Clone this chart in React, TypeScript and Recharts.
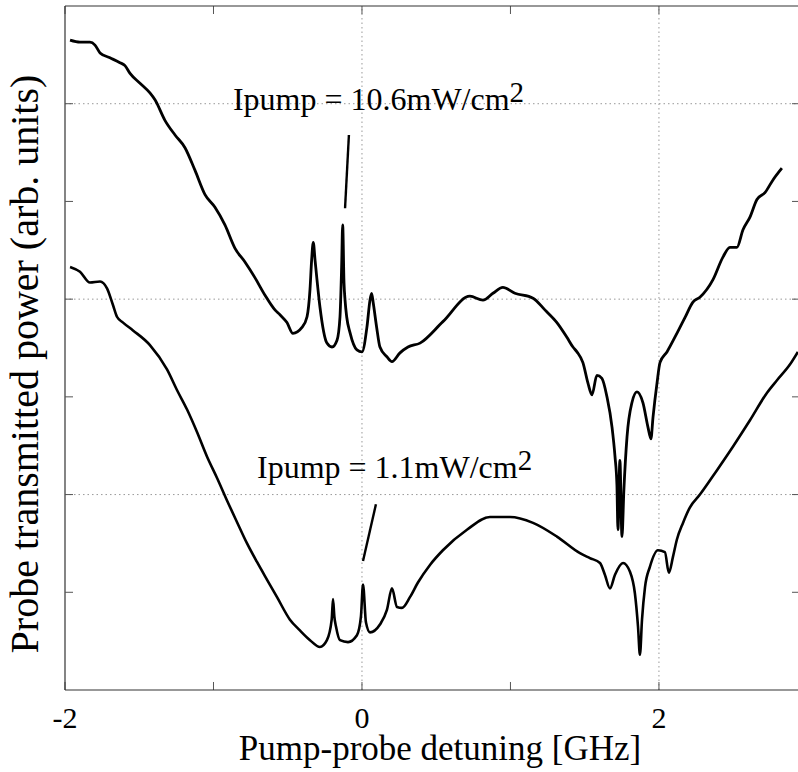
import React from "react";
import { LineChart, Line, XAxis, YAxis, ReferenceLine, ReferenceDot } from "recharts";

const FONT = '"Liberation Serif", "Times New Roman", serif';

// [detuning GHz, transmitted power arb.]
const highPump = [
  [-1.966, 6.65], [-1.899, 6.63], [-1.832, 6.63], [-1.798, 6.6], [-1.764, 6.52], [-1.697, 6.47],
  [-1.63, 6.42], [-1.596, 6.39], [-1.562, 6.31], [-1.495, 6.21], [-1.428, 6.11], [-1.394, 6.04],
  [-1.327, 5.83], [-1.259, 5.68], [-1.192, 5.55], [-1.125, 5.32], [-1.057, 5.07], [-0.99, 4.94],
  [-0.923, 4.76], [-0.855, 4.52], [-0.788, 4.38], [-0.721, 4.22], [-0.653, 4.04], [-0.586, 3.89],
  [-0.552, 3.84], [-0.505, 3.76], [-0.465, 3.65], [-0.404, 3.71], [-0.37, 3.82], [-0.35, 4.1],
  [-0.339, 4.4], [-0.328, 4.58], [-0.316, 4.4], [-0.305, 4.23], [-0.283, 3.92], [-0.236, 3.55],
  [-0.202, 3.51], [-0.168, 3.58], [-0.148, 3.82], [-0.137, 4.33], [-0.13, 4.76], [-0.121, 4.17],
  [-0.114, 3.99], [-0.103, 3.82], [-0.081, 3.66], [-0.034, 3.48], [0.0, 3.46], [0.034, 3.72],
  [0.054, 3.99], [0.065, 4.06], [0.076, 3.96], [0.099, 3.71], [0.121, 3.51], [0.168, 3.41],
  [0.202, 3.36], [0.256, 3.45], [0.31, 3.51], [0.391, 3.55], [0.545, 3.77], [0.727, 4.03],
  [0.815, 3.99], [0.882, 4.06], [0.949, 4.12], [1.03, 4.06], [1.152, 4.01], [1.232, 3.89],
  [1.313, 3.76], [1.38, 3.61], [1.421, 3.51], [1.448, 3.46], [1.488, 3.35], [1.522, 3.14],
  [1.549, 3.02], [1.582, 3.22], [1.616, 3.19], [1.65, 3.0], [1.684, 2.69], [1.704, 2.39],
  [1.717, 2.1], [1.724, 1.64], [1.737, 2.35], [1.751, 1.57], [1.764, 2.05], [1.785, 2.59],
  [1.818, 2.94], [1.852, 3.05], [1.892, 2.94], [1.926, 2.69], [1.946, 2.57], [1.96, 2.79],
  [1.987, 3.14], [2.007, 3.35], [2.054, 3.46], [2.121, 3.65], [2.175, 3.81], [2.229, 3.97],
  [2.276, 4.02], [2.364, 4.2], [2.431, 4.43], [2.478, 4.53], [2.525, 4.53], [2.566, 4.71],
  [2.613, 4.84], [2.66, 5.02], [2.714, 5.09], [2.768, 5.22], [2.828, 5.34],
];

const lowPump = [
  [-1.966, 4.33], [-1.899, 4.28], [-1.832, 4.17], [-1.764, 4.18], [-1.717, 4.11], [-1.677, 3.94],
  [-1.65, 3.82], [-1.609, 3.76], [-1.542, 3.68], [-1.428, 3.53], [-1.313, 3.28], [-1.246, 3.07],
  [-1.178, 2.87], [-1.111, 2.64], [-1.044, 2.39], [-0.976, 2.17], [-0.909, 1.94], [-0.842, 1.72],
  [-0.774, 1.5], [-0.707, 1.31], [-0.64, 1.13], [-0.572, 0.95], [-0.485, 0.72], [-0.418, 0.61],
  [-0.35, 0.51], [-0.283, 0.44], [-0.236, 0.51], [-0.204, 0.72], [-0.195, 0.93], [-0.186, 0.75],
  [-0.175, 0.65], [-0.148, 0.51], [-0.094, 0.49], [-0.034, 0.56], [-0.007, 0.75], [0.007, 1.08],
  [0.027, 0.69], [0.054, 0.59], [0.121, 0.67], [0.168, 0.82], [0.202, 1.04], [0.236, 0.85],
  [0.269, 0.84], [0.323, 0.95], [0.377, 1.1], [0.458, 1.28], [0.545, 1.43], [0.707, 1.64],
  [0.862, 1.77], [0.997, 1.77], [1.152, 1.71], [1.313, 1.57], [1.468, 1.4], [1.535, 1.35],
  [1.603, 1.3], [1.636, 1.18], [1.67, 1.04], [1.704, 1.18], [1.758, 1.3], [1.805, 1.21],
  [1.838, 0.99], [1.859, 0.65], [1.872, 0.36], [1.886, 0.72], [1.906, 1.05], [1.939, 1.26],
  [1.993, 1.43], [2.04, 1.41], [2.067, 1.2], [2.094, 1.36], [2.121, 1.54], [2.162, 1.71],
  [2.209, 1.87], [2.276, 2.0], [2.391, 2.25], [2.498, 2.49], [2.613, 2.76], [2.727, 3.04],
  [2.795, 3.17], [2.882, 3.33], [2.936, 3.46],
];

const xTicks = [-2, -1, 0, 1, 2];
const xLabelTicks = [-2, 0, 2];
const yTicks = [1, 2, 3, 4, 5, 6];
const xGrid = [0, 2];
const yGrid = [2, 4, 6];

const pumpLabels = ["10.6", "1.1"];
const labelAnchors = [
  { x: -0.869, y: 5.94 },
  { x: -0.707, y: 2.17 },
];
const pointers = [
  [{ x: -0.088, y: 5.68 }, { x: -0.114, y: 4.93 }],
  [{ x: 0.094, y: 1.9 }, { x: 0.007, y: 1.32 }],
];

const toPoints = (pairs: number[][]) => pairs.map(([x, y]) => ({ x, y }));
const highData = toPoints(highPump);
const lowData = toPoints(lowPump);

const X_DOMAIN: [number, number] = [-2, 2.95];
const Y_DOMAIN: [number, number] = [0, 7];
const TICK_LEN = 0.082; // ~8px in y units
const noLabel = () => "";

function PumpText({ cx, cy, value }: { cx: number; cy: number; value: string }) {
  return (
    <text x={cx} y={cy} fontFamily={FONT} fontSize={32} fill="#000">
      {`Ipump = ${value}mW/cm`}
      <tspan dy={-8} fontSize={29}>2</tspan>
    </text>
  );
}

export default function App() {
  const ax = { xAxisId: "b", yAxisId: "l" };
  return (
    <div style={{ position: "relative", width: 798, height: 772, overflow: "hidden", background: "#fff" }}>
      <style>{"body{margin:0}"}</style>
      <LineChart width={800} height={772} margin={{ top: 6, right: 0, left: 65, bottom: 0 }}>
        <XAxis
          xAxisId="b"
          dataKey="x"
          type="number"
          domain={X_DOMAIN}
          allowDataOverflow
          height={82}
          tick={false}
          tickLine={false}
          axisLine={{ stroke: "#333", strokeWidth: 1.2 }}
        />
        <XAxis
          xAxisId="t"
          orientation="top"
          dataKey="x"
          type="number"
          domain={X_DOMAIN}
          allowDataOverflow
          mirror
          tick={false}
          tickLine={false}
          axisLine={{ stroke: "#333", strokeWidth: 1.2 }}
        />
        <YAxis
          yAxisId="l"
          type="number"
          domain={Y_DOMAIN}
          allowDataOverflow
          ticks={yTicks}
          interval={0}
          mirror
          tickSize={8}
          axisLine={{ stroke: "#333", strokeWidth: 1.2 }}
          tickFormatter={noLabel}
          tickLine={{ stroke: "#555" }}
        />
        <YAxis
          yAxisId="r"
          orientation="right"
          type="number"
          domain={Y_DOMAIN}
          allowDataOverflow
          ticks={yTicks}
          interval={0}
          mirror
          tickSize={8}
          axisLine={{ stroke: "#333" }}
          tickFormatter={noLabel}
          tickLine={{ stroke: "#555" }}
        />

        {yGrid.map((v) => (
          <ReferenceLine key={`gy${v}`} {...ax} y={v} stroke="#999" strokeDasharray="1.5 3" />
        ))}
        {xGrid.map((v) => (
          <ReferenceLine key={`gx${v}`} {...ax} x={v} stroke="#999" strokeDasharray="1.5 3" />
        ))}

        {/* inward x ticks on bottom and top frame */}
        {xTicks.map((v) => (
          <ReferenceLine
            key={`tb${v}`}
            {...ax}
            ifOverflow="visible"
            segment={[{ x: v, y: Y_DOMAIN[0] }, { x: v, y: Y_DOMAIN[0] + TICK_LEN }]}
            stroke="#555"
          />
        ))}
        {xTicks.map((v) => (
          <ReferenceLine
            key={`tt${v}`}
            {...ax}
            ifOverflow="visible"
            segment={[{ x: v, y: Y_DOMAIN[1] }, { x: v, y: Y_DOMAIN[1] - TICK_LEN }]}
            stroke="#555"
          />
        ))}
        {xLabelTicks.map((v) => (
          <ReferenceDot
            key={`xl${v}`}
            {...ax}
            x={v}
            y={Y_DOMAIN[0]}
            r={0}
            ifOverflow="visible"
            shape={(p: any) => (
              <text x={p.cx} y={p.cy + 38} textAnchor="middle" fontFamily={FONT} fontSize={30} fill="#000">
                {String(v)}
              </text>
            )}
          />
        ))}

        {pointers.map((seg, i) => (
          <ReferenceLine key={`p${i}`} {...ax} segment={seg} stroke="#000" strokeWidth={2.4} />
        ))}
        {pumpLabels.map((v, i) => (
          <ReferenceDot
            key={`l${v}`}
            {...ax}
            x={labelAnchors[i].x}
            y={labelAnchors[i].y}
            r={0}
            shape={(p: any) => <PumpText cx={p.cx} cy={p.cy} value={v} />}
          />
        ))}

        <Line
          {...ax}
          data={highData}
          dataKey="y"
          type="monotone"
          stroke="#000"
          strokeWidth={2.8}
          strokeLinejoin="round"
          dot={false}
          isAnimationActive={false}
        />
        <Line
          {...ax}
          data={lowData}
          dataKey="y"
          type="monotone"
          stroke="#000"
          strokeWidth={2.6}
          strokeLinejoin="round"
          dot={false}
          isAnimationActive={false}
        />
      </LineChart>
      <svg width={798} height={772} style={{ position: "absolute", left: 0, top: 0, pointerEvents: "none" }}>
        <text x={440} y={760} textAnchor="middle" fontFamily={FONT} fontSize={35} fill="#000">
          Pump-probe detuning [GHz]
        </text>
        <text
          x={38}
          y={364}
          transform="rotate(-90 38 364)"
          textAnchor="middle"
          fontFamily={FONT}
          fontSize={40}
          fill="#000"
        >
          Probe transmitted power (arb. units)
        </text>
      </svg>
    </div>
  );
}
